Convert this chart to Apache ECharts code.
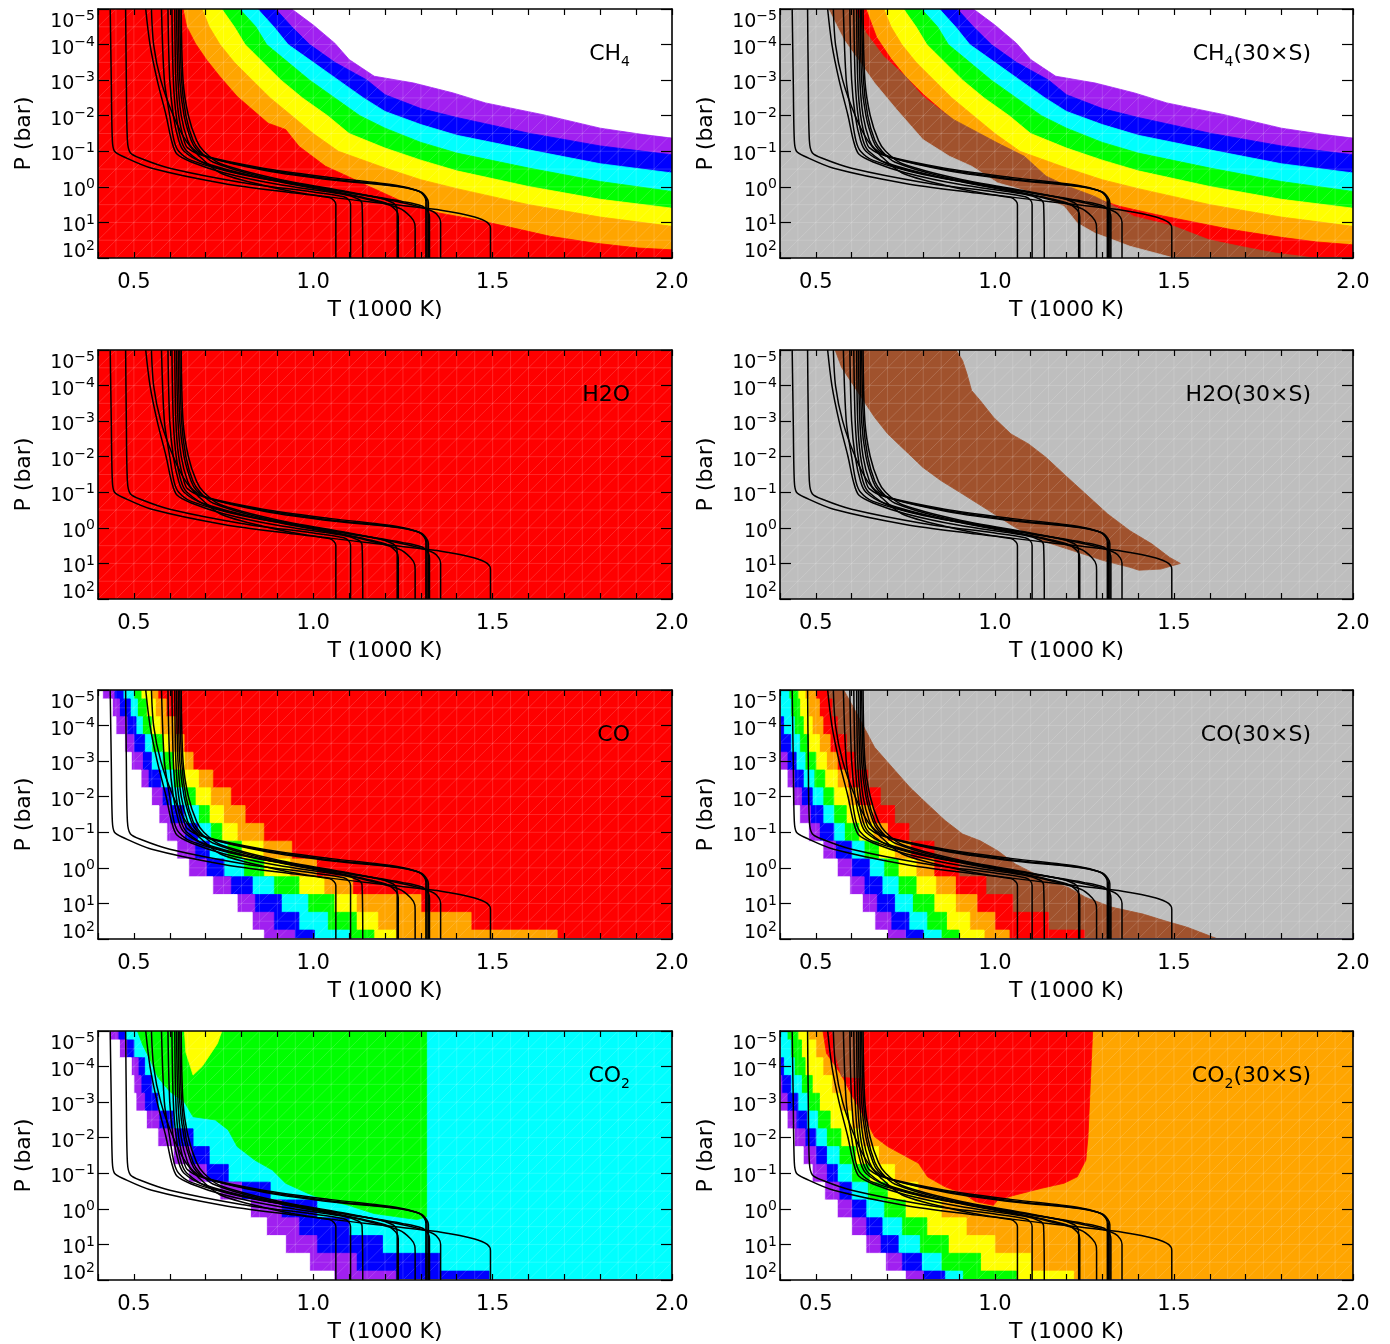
<!DOCTYPE html>
<html><head><meta charset="utf-8">
<script src="https://cdn.jsdelivr.net/npm/echarts@6/dist/echarts.min.js"></script>
<style>html,body{margin:0;padding:0;background:#fff}#c{width:1390px;height:1344px}</style>
</head><body><div id="c"></div>
<script>
// ---------------- DATA ----------------
const T_RANGE = [0.4, 2.0];
const LOGP_RANGE = [-5, 2];
const X_TICK_LABELS = [0.5, 1.0, 1.5, 2.0];
const Y_TICKS = [1e-5, 1e-4, 1e-3, 1e-2, 1e-1, 1e0, 1e1, 1e2];
// log10(P) levels at which stair-type band edges were read
const LEVELS = [-5,-4.5,-4,-3.5,-3,-2.5,-2,-1.5,-1,-0.5,0,0.5,1,1.5,2];
// model grid spacing (faint mesh)
const MESH_T_STEP = 0.05, MESH_L_STEP = 0.5;

// T-P profiles [T (1000 K), P (bar)]
const PROFILE_1 = [[0.434,1e-5],[0.437,1e-3],[0.440,0.05],[0.446,0.1],[0.47,0.14],[0.55,0.3],[0.75,0.8],[0.95,1.5],[1.045,2.0],[1.059,2.5],[1.063,3.2],[1.063,100]];
const PROFILE_2 = [[0.477,1e-5],[0.479,1e-3],[0.482,0.05],[0.49,0.11],[0.52,0.16],[0.6,0.3],[0.8,0.75],[1.0,1.4],[1.085,1.9],[1.1,2.4],[1.104,3.2],[1.104,100]];
const PROFILE_3 = [[0.533,1e-5],[0.545,1e-4],[0.565,1e-3],[0.59,0.01],[0.605,0.05],[0.62,0.12],[0.66,0.2],[0.75,0.4],[0.9,0.85],[1.08,1.6],[1.125,2.2],[1.136,3],[1.138,100]];
const PROFILE_4 = [[0.549,1e-5],[0.555,1e-4],[0.575,1e-3],[0.61,0.01],[0.645,0.05],[0.68,0.13],[0.74,0.4],[0.86,0.9],[0.985,1.6],[1.23,3.2],[1.36,4.6],[1.45,7],[1.485,10],[1.494,15],[1.494,100]];
const PROFILE_5 = [[0.577,1e-5],[0.585,1e-3],[0.60,0.01],[0.612,0.05],[0.625,0.1],[0.66,0.18],[0.8,0.45],[1.0,1.0],[1.18,2.0],[1.222,2.8],[1.232,3.6],[1.234,5],[1.234,100]];
const PROFILE_6 = [[0.595,1e-5],[0.60,1e-3],[0.61,0.01],[0.625,0.05],[0.64,0.1],[0.69,0.2],[0.85,0.55],[1.05,1.3],[1.2,2.8],[1.23,4.5],[1.237,7],[1.237,100]];
const PROFILE_7 = [[0.606,1e-5],[0.61,1e-3],[0.618,0.01],[0.632,0.05],[0.648,0.1],[0.71,0.25],[0.9,0.7],[1.1,1.7],[1.24,4],[1.272,7],[1.283,11],[1.284,16],[1.284,100]];
const PROFILE_8 = [[0.614,1e-5],[0.617,1e-3],[0.625,0.01],[0.64,0.05],[0.65,0.08],[0.69,0.13],[0.86,0.3],[1.05,0.55],[1.23,0.9],[1.293,1.3],[1.309,1.8],[1.314,2.6],[1.314,100]];
const PROFILE_9 = [[0.619,1e-5],[0.623,1e-3],[0.632,0.01],[0.65,0.05],[0.665,0.085],[0.70,0.14],[0.86,0.32],[1.05,0.6],[1.23,0.95],[1.296,1.35],[1.312,1.9],[1.317,2.7],[1.317,100]];
const PROFILE_10 = [[0.624,1e-5],[0.628,1e-3],[0.64,0.01],[0.66,0.05],[0.675,0.09],[0.71,0.15],[0.87,0.35],[1.06,0.65],[1.24,1.0],[1.3,1.4],[1.316,2],[1.321,2.8],[1.321,100]];
const PROFILE_11 = [[0.628,1e-5],[0.633,1e-3],[0.645,0.01],[0.665,0.05],[0.685,0.1],[0.72,0.2],[0.85,0.5],[1.05,1.2],[1.25,2.6],[1.305,3.5],[1.32,5],[1.324,7],[1.324,100]];
const PROFILE_12 = [[0.632,1e-5],[0.637,1e-3],[0.652,0.01],[0.675,0.05],[0.695,0.1],[0.74,0.22],[0.9,0.6],[1.1,1.4],[1.28,3.3],[1.335,5],[1.35,7],[1.355,10],[1.355,100]];
const PROFILES = [PROFILE_1,PROFILE_2,PROFILE_3,PROFILE_4,PROFILE_5,PROFILE_6,PROFILE_7,PROFILE_8,PROFILE_9,PROFILE_10,PROFILE_11,PROFILE_12];

// CH4 band edges [T, log10 P] (top -> right edge)
const CH4_OUTER = [[.94,-5],[1.0,-4.55],[1.06,-4.04],[1.1,-3.58],[1.17,-3.11],[1.28,-2.92],[1.39,-2.64],[1.48,-2.36],[1.64,-2.03],[1.8,-1.65],[1.92,-1.47],[2.0,-1.37]];
const CH4_PB = [[.895,-5],[.94,-4.5],[.99,-4.0],[1.06,-3.5],[1.15,-3.0],[1.2,-2.59],[1.3,-2.2],[1.4,-1.95],[1.6,-1.51],[1.8,-1.15],[2.0,-0.90]];
const CH4_BC = [[.845,-5],[.89,-4.5],[.93,-4.0],[1.0,-3.5],[1.07,-3.0],[1.14,-2.5],[1.2,-2.12],[1.3,-1.75],[1.4,-1.45],[1.6,-1.04],[1.8,-0.65],[2.0,-0.39]];
const CH4_CG = [[.795,-5],[.84,-4.5],[.87,-4.0],[.93,-3.5],[.99,-3.0],[1.06,-2.5],[1.13,-2.0],[1.2,-1.65],[1.3,-1.25],[1.4,-0.95],[1.6,-0.53],[1.8,-0.15],[2.0,0.13]];
const CH4_GY = [[.745,-5],[.78,-4.5],[.81,-4.0],[.86,-3.5],[.91,-3.0],[.97,-2.5],[1.04,-2.0],[1.1,-1.5],[1.2,-1.09],[1.3,-0.75],[1.4,-0.45],[1.6,-0.01],[1.8,0.35],[2.0,0.60]];
const CH4_YO = [[.69,-5],[.71,-4.5],[.74,-4.0],[.78,-3.5],[.83,-3.0],[.88,-2.5],[.94,-2.0],[1.0,-1.5],[1.07,-1.0],[1.2,-0.53],[1.3,-0.2],[1.4,0.05],[1.6,0.50],[1.8,0.85],[2.0,1.11]];
const CH4_OR = [[.637,-5],[.647,-4.51],[.671,-4.04],[.702,-3.58],[.739,-3.11],[.788,-2.54],[.874,-1.79],[.923,-1.61],[.96,-1.14],[1.034,-0.58],[1.095,-0.30],[1.156,-0.01],[1.267,0.5],[1.353,0.74],[1.451,0.92],[1.537,1.11],[1.66,1.39],[1.783,1.58],[1.906,1.72],[2.0,1.77]];
// CH4(30xS) extra edges
const CH4S_OR = [[.64,-5],[.67,-4.2],[.71,-3.6],[.75,-3.1],[.80,-2.6],[.88,-1.9],[.96,-1.3],[1.03,-0.75],[1.15,-0.2],[1.27,0.3],[1.35,0.55],[1.45,0.78],[1.55,0.98],[1.66,1.2],[1.8,1.42],[1.9,1.55],[2.0,1.63]];
const CH4S_RB = [[.609,-5],[.64,-4.33],[.689,-3.67],[.75,-3.11],[.799,-2.54],[.885,-1.89],[1.008,-1.23],[1.082,-0.86],[1.143,-0.30],[1.205,-0.01],[1.279,0.27],[1.389,0.83],[1.5,1.11],[1.598,1.49],[1.684,1.67],[1.782,1.86],[1.893,2.0]];
const CH4S_BG = [[.535,-5],[.578,-4.14],[.664,-2.92],[.726,-2.17],[.799,-1.33],[.873,-0.86],[.935,-0.58],[1.008,-0.11],[1.107,0.17],[1.193,0.55],[1.23,1.02],[1.279,1.30],[1.377,1.67],[1.50,2.0]];
// H2O(30xS) brown region outline
const H2OS_BROWN = [[.554,-5],[.572,-4.51],[.603,-4.04],[.633,-3.58],[.664,-3.11],[.701,-2.64],[.75,-2.17],[.799,-1.70],[.849,-1.33],[.91,-0.95],[.984,-0.48],[1.057,-0.01],[1.131,0.36],[1.217,0.64],[1.303,0.92],[1.377,1.11],[1.402,1.19],[1.463,1.16],[1.518,1.0],[1.488,0.83],[1.438,0.45],[1.377,0.08],[1.315,-0.39],[1.254,-0.95],[1.193,-1.51],[1.143,-1.98],[1.094,-2.36],[1.045,-2.64],[.996,-3.11],[.959,-3.58],[.935,-3.86],[.922,-4.33],[.91,-4.70],[.892,-5]];
// CO band edges: T at each of LEVELS
const CO_OUTER = [.413,.44,.45,.475,.493,.52,.549,.57,.592,.62,.653,.72,.788,.83,.862];
const CO_PB = [.445,.46,.481,.50,.524,.54,.579,.60,.641,.67,.702,.77,.837,.89,.948];
const CO_BC = [.47,.49,.506,.53,.549,.575,.604,.64,.678,.71,.751,.83,.911,.96,1.003];
const CO_CG = [.50,.51,.524,.55,.579,.61,.641,.68,.714,.76,.806,.89,.985,1.04,1.101];
const CO_GY = [.52,.535,.549,.58,.61,.64,.671,.71,.745,.80,.862,.96,1.058,1.12,1.169];
const CO_YO = [.55,.56,.573,.60,.641,.68,.714,.75,.788,.86,.935,1.03,1.12,1.18,1.23];
const CO_OR = [.567,.59,.616,.64,.665,.72,.77,.81,.862,.94,1.009,1.11,1.30,1.44,1.68];
// CO(30xS)
const COS_OUTER = [.38,.38,.38,.39,.40,.42,.435,.455,.48,.52,.56,.595,.63,.665,.70];
const COS_PB = [.38,.38,.38,.40,.42,.44,.46,.485,.51,.555,.60,.635,.67,.71,.75];
const COS_BC = [.38,.395,.41,.43,.445,.465,.49,.52,.55,.60,.65,.685,.72,.76,.80];
const COS_CG = [.425,.43,.44,.455,.47,.495,.52,.55,.58,.635,.69,.73,.77,.81,.85];
const COS_GY = [.45,.455,.465,.48,.50,.525,.55,.585,.62,.675,.73,.78,.83,.865,.90];
const COS_YO = [.47,.48,.49,.51,.53,.56,.59,.625,.66,.72,.78,.835,.89,.93,.97];
const COS_OR = [.50,.51,.52,.54,.56,.59,.62,.66,.70,.765,.83,.89,.95,1.0,1.04];
const COS_RB = [.535,.545,.56,.585,.61,.645,.68,.72,.76,.83,.90,.975,1.05,1.15,1.25];
const COS_BG = [[.578,-5],[.615,-4.33],[.664,-3.39],[.713,-2.83],[.763,-2.26],[.812,-1.79],[.861,-1.33],[.91,-0.95],[.959,-0.76],[1.008,-0.48],[1.057,-0.11],[1.131,0.27],[1.205,0.55],[1.254,0.83],[1.328,1.11],[1.414,1.30],[1.475,1.49],[1.537,1.67],[1.623,2.0]];
// CO2
const CO2_OUTER = [.432,.46,.493,.50,.506,.535,.567,.61,.653,.74,.825,.87,.923,.99,1.058];
const CO2_PB = [.456,.48,.512,.52,.53,.57,.616,.66,.702,.80,.911,.96,1.01,1.12,1.23];
const CO2_BC = [.475,.50,.53,.55,.567,.61,.665,.71,.763,.88,1.01,1.10,1.193,1.353,1.49];
const CO2_GREEN = [[.51,-5],[1.316,-5],[1.316,0.22],[1.29,0.3],[1.267,0.27],[1.169,0.13],[1.095,-0.11],[1.034,-0.25],[.984,-0.44],[.923,-0.72],[.886,-1.09],[.837,-1.37],[.788,-1.75],[.763,-2.22],[.727,-2.5],[.665,-2.59],[.641,-3.0],[.60,-3.3],[.567,-3.7],[.545,-4.2],[.525,-4.6]];
const CO2_YELLOW = [[.641,-5],[.645,-4.4],[.665,-3.76],[.69,-4.0],[.702,-4.18],[.733,-4.65],[.745,-5]];
// CO2(30xS)
const CO2S_OUTER = [.38,.38,.38,.39,.40,.42,.44,.465,.49,.525,.56,.60,.64,.695,.75];
const CO2S_PB = [.38,.38,.39,.405,.42,.445,.47,.50,.53,.565,.60,.64,.68,.74,.80];
const CO2S_BC = [.38,.395,.41,.43,.45,.475,.50,.53,.56,.60,.64,.685,.73,.795,.86];
const CO2S_CG = [.42,.43,.44,.46,.48,.505,.53,.565,.60,.645,.69,.74,.79,.85,.91];
const CO2S_GY = [.45,.46,.47,.49,.51,.54,.57,.61,.65,.70,.75,.81,.87,.96,1.06];
const CO2S_YO = [.48,.50,.52,.545,.57,.60,.63,.675,.72,.785,.85,.92,1.0,1.1,1.22];
const CO2S_RED = [[.52,-5],[.53,-4.37],[.572,-3.76],[.60,-3.2],[.64,-2.5],[.664,-2.03],[.701,-1.75],[.787,-1.28],[.812,-0.9],[.861,-0.62],[.91,-0.44],[.947,-0.2],[.996,-0.1],[1.008,-0.25],[1.057,-0.39],[1.131,-0.58],[1.193,-0.72],[1.23,-0.9],[1.254,-1.37],[1.26,-2.03],[1.266,-3.43],[1.273,-5]];
const CO2S_BROWN = [[.547,-5],[.553,-4.4],[.572,-3.72],[.633,-3.67],[.633,-5]];

const PANEL_LABELS = ['{m|CH}{s|4}','{m|CH}{s|4}{m|(30×S)}','{m|H2O}','{m|H2O(30×S)}','{m|CO}','{m|CO(30×S)}','{m|CO}{s|2}','{m|CO}{s|2}{m|(30×S)}'];

// ---------------- STYLE / LAYOUT ----------------
const COL = {white:'#ffffff',purple:'#a020f0',blue:'#0000ff',cyan:'#00ffff',green:'#00ff00',yellow:'#ffff00',orange:'#ffa500',red:'#ff0000',brown:'#a0522d',gray:'#bebebe'};
const FONT = "'DejaVu Sans', sans-serif";
const GRID_LEFT = [98, 780], GRID_W = [574, 573], GRID_TOP = [9, 350, 690, 1031], GRID_H = 249;

function stairs(Ts){ // centered steps at each LEVEL
  const out = [];
  Ts.forEach((t,k)=>{
    const lo = Math.max(LOGP_RANGE[0], LEVELS[k]-0.25), hi = Math.min(LOGP_RANGE[1], LEVELS[k]+0.25);
    out.push([t,lo]); out.push([t,hi]);
  });
  return out;
}
function full(){ return [[T_RANGE[0],LOGP_RANGE[0]],[T_RANGE[1],LOGP_RANGE[0]],[T_RANGE[1],LOGP_RANGE[1]],[T_RANGE[0],LOGP_RANGE[1]]]; }
function below(edge){ return [[T_RANGE[0],LOGP_RANGE[0]]].concat(edge,[[T_RANGE[1],LOGP_RANGE[1]],[T_RANGE[0],LOGP_RANGE[1]]]); }

const PANELS = [
  [[full(),COL.white],[below(CH4_OUTER),COL.purple],[below(CH4_PB),COL.blue],[below(CH4_BC),COL.cyan],[below(CH4_CG),COL.green],[below(CH4_GY),COL.yellow],[below(CH4_YO),COL.orange],[below(CH4_OR),COL.red]],
  [[full(),COL.white],[below(CH4_OUTER),COL.purple],[below(CH4_PB),COL.blue],[below(CH4_BC),COL.cyan],[below(CH4_CG),COL.green],[below(CH4_GY),COL.yellow],[below(CH4_YO),COL.orange],[below(CH4S_OR),COL.red],[below(CH4S_RB),COL.brown],[below(CH4S_BG),COL.gray]],
  [[full(),COL.red]],
  [[full(),COL.gray],[H2OS_BROWN,COL.brown]],
  [[full(),COL.red],[below(stairs(CO_OR)),COL.orange],[below(stairs(CO_YO)),COL.yellow],[below(stairs(CO_GY)),COL.green],[below(stairs(CO_CG)),COL.cyan],[below(stairs(CO_BC)),COL.blue],[below(stairs(CO_PB)),COL.purple],[below(stairs(CO_OUTER)),COL.white]],
  [[full(),COL.gray],[below(COS_BG),COL.brown],[below(stairs(COS_RB)),COL.red],[below(stairs(COS_OR)),COL.orange],[below(stairs(COS_YO)),COL.yellow],[below(stairs(COS_GY)),COL.green],[below(stairs(COS_CG)),COL.cyan],[below(stairs(COS_BC)),COL.blue],[below(stairs(COS_PB)),COL.purple],[below(stairs(COS_OUTER)),COL.white]],
  [[full(),COL.cyan],[CO2_GREEN,COL.green],[CO2_YELLOW,COL.yellow],[below(stairs(CO2_BC)),COL.blue],[below(stairs(CO2_PB)),COL.purple],[below(stairs(CO2_OUTER)),COL.white]],
  [[full(),COL.orange],[CO2S_RED,COL.red],[CO2S_BROWN,COL.brown],[below(stairs(CO2S_YO)),COL.yellow],[below(stairs(CO2S_GY)),COL.green],[below(stairs(CO2S_CG)),COL.cyan],[below(stairs(CO2S_BC)),COL.blue],[below(stairs(CO2S_PB)),COL.purple],[below(stairs(CO2S_OUTER)),COL.white]]
];

function yLabel(v){
  const e = Math.round(Math.log10(v));
  return '{b|10}{e|' + String(e).replace('-', '\u2212') + '}';
}

// faint model mesh (grid cells + one diagonal per cell), in data space
const MESH_SEGS = [];
for (let t = T_RANGE[0]; t <= T_RANGE[1] + 1e-9; t += MESH_T_STEP) MESH_SEGS.push([[t, LOGP_RANGE[0]], [t, LOGP_RANGE[1]]]);
for (let l = LOGP_RANGE[0]; l <= LOGP_RANGE[1] + 1e-9; l += MESH_L_STEP) MESH_SEGS.push([[T_RANGE[0], l], [T_RANGE[1], l]]);
for (let t = T_RANGE[0]; t < T_RANGE[1] - 1e-9; t += MESH_T_STEP)
  for (let l = LOGP_RANGE[0]; l < LOGP_RANGE[1] - 1e-9; l += MESH_L_STEP)
    MESH_SEGS.push([[t, l + MESH_L_STEP], [t + MESH_T_STEP, l]]);

const grids=[], xAxes=[], yAxes=[], series=[], titles=[];
PANELS.forEach((layers, i) => {
  const col = i % 2, row = Math.floor(i / 2);
  grids.push({left: GRID_LEFT[col], top: GRID_TOP[row], width: GRID_W[col], height: GRID_H});
  const axLine = {show:true, onZero:false, lineStyle:{color:'#000', width:1.6}};
  xAxes.push({gridIndex:i, type:'value', position:'bottom', min:T_RANGE[0], max:T_RANGE[1], interval:0.1, z:10,
    axisLine:axLine, splitLine:{show:false},
    axisTick:{inside:true, length:6, lineStyle:{color:'#000', width:1.2}},
    axisLabel:{customValues:X_TICK_LABELS, formatter:v=>v.toFixed(1), color:'#000', fontFamily:FONT, fontSize:21, margin:14},
    name:'T (1000 K)', nameLocation:'middle', nameGap:41, nameTextStyle:{color:'#000', fontFamily:FONT, fontSize:22}});
  xAxes.push({gridIndex:i, type:'value', position:'top', min:T_RANGE[0], max:T_RANGE[1], interval:0.1, z:10,
    axisLine:axLine, splitLine:{show:false}, axisLabel:{show:false},
    axisTick:{inside:true, length:6, lineStyle:{color:'#000', width:1.2}}});
  yAxes.push({gridIndex:i, type:'log', logBase:10, position:'left', inverse:true, min:1e-5, max:1e2, z:10,
    axisLine:axLine, splitLine:{show:false}, minorTick:{show:false},
    axisTick:{inside:true, length:11, customValues:Y_TICKS, lineStyle:{color:'#000', width:1.2}},
    axisLabel:{customValues:Y_TICKS, formatter:yLabel, margin:3, color:'#000', verticalAlignMinLabel:'top', verticalAlignMaxLabel:'bottom',
      rich:{b:{fontFamily:FONT, fontSize:19, lineHeight:19, padding:[4,0,0,0], verticalAlign:'top', color:'#000'},
            e:{fontFamily:FONT, fontSize:14, lineHeight:14, verticalAlign:'top', color:'#000'}}},
    name:'P (bar)', nameLocation:'middle', nameGap:63, nameTextStyle:{color:'#000', fontFamily:FONT, fontSize:22}});
  yAxes.push({gridIndex:i, type:'log', logBase:10, position:'right', inverse:true, min:1e-5, max:1e2, z:10,
    axisLine:axLine, splitLine:{show:false}, axisLabel:{show:false}, minorTick:{show:false},
    axisTick:{inside:true, length:11, customValues:Y_TICKS, lineStyle:{color:'#000', width:1.2}}});
  layers.forEach(([pts, color]) => {
    const data = pts.map(p => [p[0], Math.pow(10, p[1])]);
    series.push({type:'custom', xAxisIndex:2*i, yAxisIndex:2*i, clip:true, silent:true, animation:false, z:2,
      data:[data[0]],
      renderItem:(params, api) => ({type:'polygon', shape:{points:data.map(d => api.coord(d))},
        style:{fill:color, stroke:color, lineWidth:0.8}})});
  });
  series.push({type:'custom', xAxisIndex:2*i, yAxisIndex:2*i, clip:true, silent:true, animation:false, z:3,
    data:[[T_RANGE[0], 1e-5]],
    renderItem:(params, api) => ({type:'group', children: MESH_SEGS.map(s => {
      const a = api.coord([s[0][0], Math.pow(10, s[0][1])]), b = api.coord([s[1][0], Math.pow(10, s[1][1])]);
      return {type:'line', shape:{x1:a[0], y1:a[1], x2:b[0], y2:b[1]}, style:{stroke:'rgba(255,255,255,0.22)', lineWidth:0.7}};
    })})});
  PROFILES.forEach(p => series.push({type:'line', xAxisIndex:2*i, yAxisIndex:2*i, data:p, showSymbol:false, symbol:'none',
    smooth:0.3, clip:true, silent:true, animation:false, z:5, lineStyle:{color:'#000', width:1.5}}));
  titles.push({text:PANEL_LABELS[i], right: col === 0 ? 1390-630 : 1390-1311, top: GRID_TOP[row]+34, padding:0,
    textStyle:{fontWeight:'normal', rich:{m:{fontFamily:FONT, fontSize:22, fontWeight:'normal', lineHeight:24, verticalAlign:'top', color:'#000'},
                     s:{fontFamily:FONT, fontSize:14, fontWeight:'normal', lineHeight:14, padding:[12,0,0,0], verticalAlign:'top', color:'#000'}}}});
});

const chart = echarts.init(document.getElementById('c'), null, {renderer:'canvas', width:1390, height:1344});
chart.setOption({animation:false, backgroundColor:'#fff', title:titles, grid:grids, xAxis:xAxes, yAxis:yAxes, series:series});
</script></body></html>
